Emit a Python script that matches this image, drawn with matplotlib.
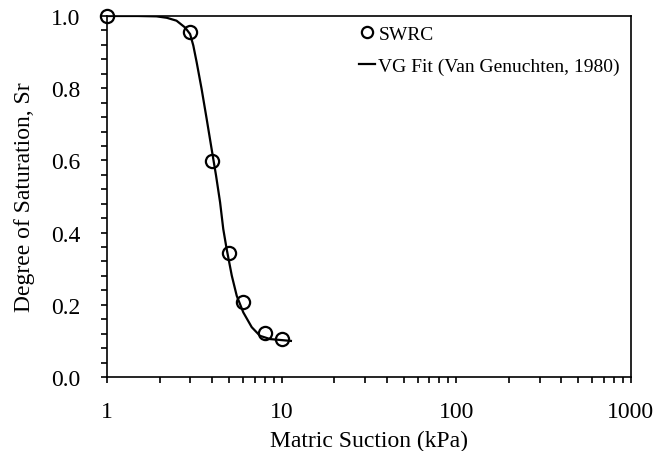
import matplotlib
matplotlib.use("Agg")
from matplotlib import pyplot as plt
from matplotlib.ticker import FixedLocator, FixedFormatter, MultipleLocator, FormatStrFormatter, NullFormatter
import numpy as np

# measured SWRC points
suction = [1, 3, 4, 5, 6, 8, 10]
saturation = [1.0, 0.955, 0.597, 0.343, 0.208, 0.122, 0.106]

# VG fit curve
fit_suction = [1, 1.5, 1.92, 2.2, 2.5, 2.8, 2.99, 3.12, 3.26, 3.48, 3.72, 3.97,
               4.21, 4.44, 4.63, 4.84, 5.18, 5.53, 6.03, 6.74, 7.52, 8.6, 11.3]
fit_saturation = [1.0, 1.0, 0.999, 0.995, 0.987, 0.968, 0.950, 0.918, 0.872, 0.798,
                  0.715, 0.632, 0.558, 0.484, 0.41, 0.355, 0.281, 0.225, 0.179,
                  0.138, 0.114, 0.105, 0.10]

x_ticks = [1, 10, 100, 1000]
x_labels = ["1", "10", "100", "1000"]

plt.rcParams['font.family'] = ['Liberation Serif', 'DejaVu Serif']

fig = plt.figure(figsize=(6.69, 4.52), dpi=100)
ax = fig.add_axes([0.160, 0.1637, 0.783, 0.7987])

ax.plot(fit_suction, fit_saturation, color="black", lw=1.6,
        label="VG Fit (Van Genuchten, 1980)", zorder=2)
ax.plot(suction, saturation, ls="none", marker="o", ms=9.5, mfc="none",
        mec="black", mew=1.6, label="SWRC", clip_on=False, zorder=3)

ax.set_xscale("log")
ax.set_xlim(1, 1000)
ax.set_ylim(0, 1.0)
ax.xaxis.set_major_locator(FixedLocator(x_ticks))
ax.xaxis.set_major_formatter(FixedFormatter(x_labels))
ax.xaxis.set_minor_formatter(NullFormatter())
ax.yaxis.set_major_locator(MultipleLocator(0.2))
ax.yaxis.set_minor_locator(MultipleLocator(0.04))
ax.yaxis.set_major_formatter(FormatStrFormatter("%.1f"))

ax.tick_params(which="both", direction="out", length=4, width=1.2, labelsize=17)
ax.tick_params(axis="x", which="major", pad=13)
ax.tick_params(axis="y", which="major", pad=15)
for s in ax.spines.values():
    s.set_linewidth(1.2)

ax.set_xlabel("Matric Suction (kPa)", fontsize=17, labelpad=6)
ax.set_ylabel("Degree of Saturation, Sr", fontsize=17, labelpad=12)

handles, labels = ax.get_legend_handles_labels()
ax.legend(handles[::-1], labels[::-1], loc="upper left", bbox_to_anchor=(0.455, 1.012),
          frameon=False, fontsize=14, handlelength=0.8, handletextpad=0.2,
          labelspacing=0.75, borderaxespad=0.3, markerscale=0.85)

fig.savefig("out.png", dpi=100)
